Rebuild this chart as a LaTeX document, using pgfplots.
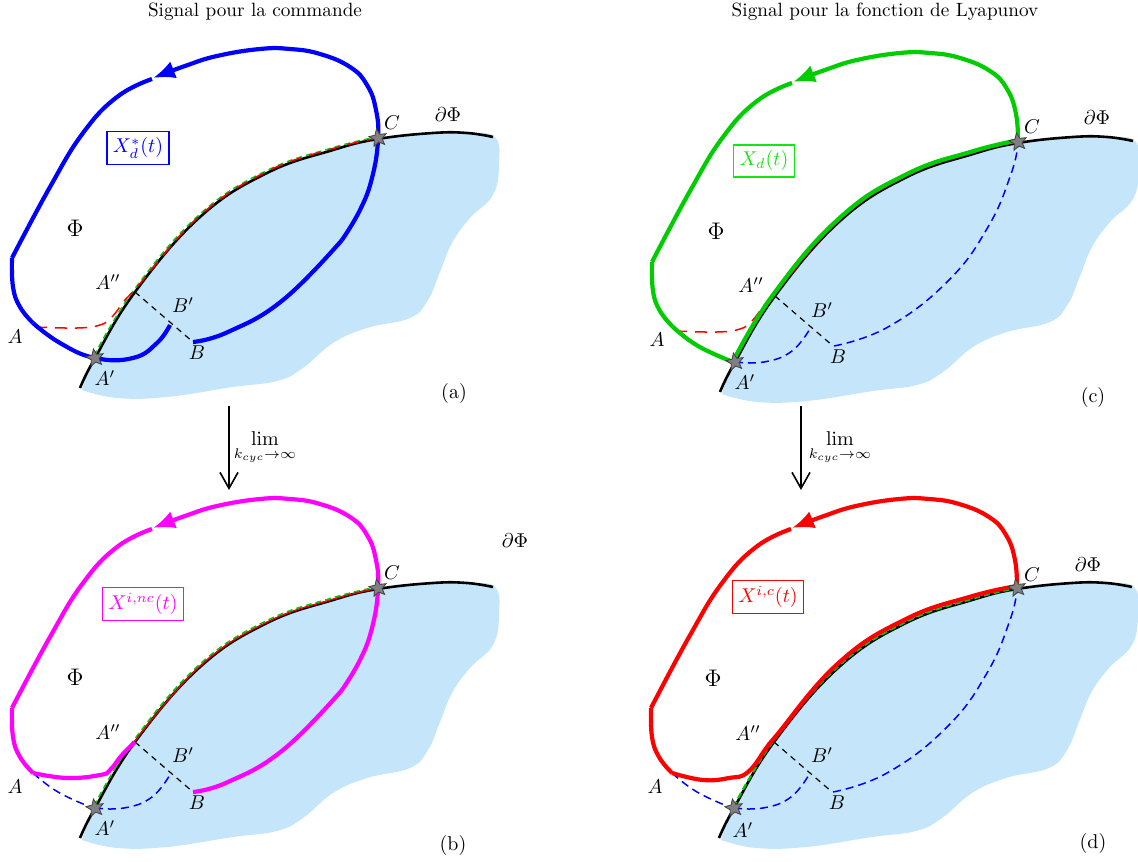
\documentclass[border=0pt]{standalone}
\usepackage{pgfplots}
\pgfplotsset{compat=1.18}
\usepackage{pgfplotstable}
\usetikzlibrary{arrows.meta}

\definecolor{regblue}{RGB}{197,230,250}
\definecolor{mygreen}{RGB}{0,205,0}
\definecolor{boxgreen}{RGB}{20,230,20}
\definecolor{mymag}{RGB}{255,0,255}
\definecolor{myblue}{RGB}{0,0,255}
\definecolor{myred}{RGB}{255,0,0}

\pgfdeclareplotmark{fstar}{%
  \pgfpathmoveto{\pgfpointpolar{100}{\pgfplotmarksize}}%
  \pgfpathlineto{\pgfpointpolar{136}{0.45\pgfplotmarksize}}%
  \pgfpathlineto{\pgfpointpolar{172}{\pgfplotmarksize}}%
  \pgfpathlineto{\pgfpointpolar{208}{0.45\pgfplotmarksize}}%
  \pgfpathlineto{\pgfpointpolar{244}{\pgfplotmarksize}}%
  \pgfpathlineto{\pgfpointpolar{280}{0.45\pgfplotmarksize}}%
  \pgfpathlineto{\pgfpointpolar{316}{\pgfplotmarksize}}%
  \pgfpathlineto{\pgfpointpolar{352}{0.45\pgfplotmarksize}}%
  \pgfpathlineto{\pgfpointpolar{28}{\pgfplotmarksize}}%
  \pgfpathlineto{\pgfpointpolar{64}{0.45\pgfplotmarksize}}%
  \pgfpathclose
  \pgfusepathqfillstroke
}

\pgfplotsset{
  panel/.style={scale only axis, width=569pt, height=430.5pt,
    xmin=0, xmax=1138, ymin=0, ymax=861, y dir=reverse,
    axis lines=none, ticks=none, clip=false, anchor=south west},
  reg/.style={fill=regblue, draw=none, smooth, tension=0.7},
  bnd/.style={black, line width=1.3pt, smooth, tension=0.7},
  thk/.style={line width=2.1pt, smooth, tension=0.75},
  dsh/.style={line width=0.75pt, dash pattern=on 4pt off 2.5pt, smooth, tension=0.75},
  gdsh/.style={mygreen, line width=0.75pt, dash pattern=on 3pt off 2pt, smooth, tension=0.7},
  bdsh/.style={black, line width=0.6pt, dash pattern=on 3pt off 2.5pt},
  rdsh/.style={myred, line width=0.75pt, dash pattern=on 6pt off 4pt, smooth, tension=0.7},
  arr/.style={-{Latex[length=11pt,width=9pt]}},
  star/.style={only marks, mark=fstar, mark size=4.6pt,
    mark options={fill=gray, draw=black!75, line width=0.4pt, solid}},
}

\pgfplotstableread{
x y
82 390
95 358
135 292
200 217
267 173
333 150
378 139
433 133
467 133
495 137
499 165
493 195
470 218
452 243
440 272
428 300
410 318
367 328
333 343
303 368
277 381
233 387
167 397
117 398
82 390
}\reg

\pgfplotstableread{
x y
80 388
95 358
135 292
200 217
267 173
333 150
378 139
433 133
467 133
493 137
}\bnd

\pgfplotstableread{
x y
95 358
135 292
200 217
267 173
333 150
378 139
}\bac

\pgfplotstableread{
x y
135 292
200 217
267 173
333 150
378 139
}\bacu

\pgfplotstableread{
x y
35 327
77 328
100 325
112 317
125 300
137 287
200 215.5
267 171.5
333 148.5
378 138
}\redA

\pgfplotstableread{
x y
33 323
60 343
95 358
133 358
157 343
170 325
}\abot

\pgfplotstableread{
x y
193 342
228 332
283 300
342 240
}\bcone

\pgfplotstableread{
x y
342 240
360 210
372 178
378 140
376 110
367 85
350 67
320 54
290 49
260 49
217 56
185 66
153 78
}\bctwo

\pgfplotstableread{
x y
378 138
376 110
367 85
350 67
320 54
290 49
260 49
217 56
185 66
153 78
}\ltop

\pgfplotstableread{
x y
152 79
117 97
83 133
50 187
12 258
}\lleft

\pgfplotstableread{
x y
12 258
13 287
20 307
33 323
}\lleftlow

\pgfplotstableread{
x y
33 323
67 328
100 325
110 320
122 305
135 292
}\magbot

\pgfplotstableread{
x y
33 323
58 342
93 358
}\dAA

\pgfplotstableread{
x y
95 358
124 358
152 347
171 323
}\dAB

\pgfplotstableread{
x y
194 342
248 323
308 277
348 223
371 170
378 140
}\bcS

\pgfplotstableread{
x y
33 323
64 330
90 328
109 322
128 297
137 286
199 213.5
266 169.5
332 146.5
378 136
}\redD

\begin{document}
\begin{tikzpicture}
% ---------------- panel (a)
\begin{axis}[panel, at={(0pt,0pt)}]
\addplot[reg] table {\reg};
\addplot[bdsh] coordinates {(135,292) (193,342)};
\addplot[bnd] table {\bnd};
\addplot[gdsh] table[x expr=\thisrow{x}-1, y expr=\thisrow{y}-2] {\bac};
\addplot[rdsh] table {\redA};
\addplot[thk, myblue] table {\abot};
\addplot[thk, myblue] table {\bcone};
\addplot[thk, myblue, arr] table {\bctwo};
\addplot[thk, myblue] table {\lleft};
\addplot[thk, myblue] table {\lleftlow};
\addplot[star] coordinates {(95,358) (378,138)};
\node at (axis cs:15,337) {$A$};
\node at (axis cs:105,378) {$A'$};
\node at (axis cs:108,282) {$A''$};
\node at (axis cs:183,305) {$B'$};
\node at (axis cs:197,353) {$B$};
\node at (axis cs:392,123) {$C$};
\node at (axis cs:448,115) {$\partial\Phi$};
\node at (axis cs:75,228) {\large$\Phi$};
\node[draw=myblue, text=myblue, line width=0.6pt, inner sep=3pt] at (axis cs:138,148) {$X_d^*(t)$};
\node at (axis cs:454,394) {(a)};
% titles and arrows
\node at (axis cs:255,12) {\fontsize{9.6pt}{11pt}\selectfont Signal pour la commande};
\node at (axis cs:885,12) {\fontsize{9.6pt}{11pt}\selectfont Signal pour la fonction de Lyapunov};
\draw[-{Straight Barb[length=8pt,width=9pt]}, line width=0.8pt] (axis cs:229,406) -- (axis cs:229,490);
\draw[-{Straight Barb[length=8pt,width=9pt]}, line width=0.8pt] (axis cs:801,406) -- (axis cs:801,490);
\node at (axis cs:265,448) {$\displaystyle\lim_{k_{cyc}\to\infty}$};
\node at (axis cs:840,448) {$\displaystyle\lim_{k_{cyc}\to\infty}$};
\end{axis}
% ---------------- panel (b)
\begin{axis}[panel, at={(0pt,-225pt)}]
\addplot[reg] table {\reg};
\addplot[bdsh] coordinates {(135,292) (193,342)};
\addplot[bnd] table {\bnd};
\addplot[gdsh] table[x expr=\thisrow{x}-1, y expr=\thisrow{y}-2] {\bac};
\addplot[myred, line width=0.6pt, smooth, tension=0.7] table[x expr=\thisrow{x}-0.3, y expr=\thisrow{y}-0.7] {\bacu};
\addplot[dsh, myblue] table {\dAA};
\addplot[dsh, myblue] table {\dAB};
\addplot[thk, mymag] table {\magbot};
\addplot[thk, mymag] table {\bcone};
\addplot[thk, mymag, arr] table {\bctwo};
\addplot[thk, mymag] table {\lleft};
\addplot[thk, mymag] table {\lleftlow};
\addplot[star] coordinates {(95,358) (378,138)};
\node at (axis cs:15,337) {$A$};
\node at (axis cs:105,378) {$A'$};
\node at (axis cs:108,282) {$A''$};
\node at (axis cs:183,305) {$B'$};
\node at (axis cs:197,353) {$B$};
\node at (axis cs:392,123) {$C$};
\node at (axis cs:515,91) {$\partial\Phi$};
\node at (axis cs:75,227) {\large$\Phi$};
\node[draw=mymag, text=mymag, line width=0.6pt, inner sep=3pt] at (axis cs:143,154) {$X^{i,nc}(t)$};
\node at (axis cs:453,395) {(b)};
\end{axis}
% ---------------- panel (c)
\begin{axis}[panel, at={(320pt,-2pt)}]
\addplot[reg] table {\reg};
\addplot[bdsh] coordinates {(135,292) (193,342)};
\addplot[bnd] table {\bnd};
\addplot[rdsh] table {\redA};
\addplot[dsh, myblue] table {\dAB};
\addplot[dsh, myblue] table {\bcS};
\addplot[thk, mygreen] table {\dAA};
\addplot[thk, mygreen] table[x expr=\thisrow{x}-1, y expr=\thisrow{y}-2.5] {\bac};
\addplot[thk, mygreen, arr] table {\ltop};
\addplot[thk, mygreen] table {\lleft};
\addplot[thk, mygreen] table {\lleftlow};
\addplot[star] coordinates {(95,358) (378,138)};
\node at (axis cs:17,336) {$A$};
\node at (axis cs:105,378) {$A'$};
\node at (axis cs:111,281) {$A''$};
\node at (axis cs:182,306) {$B'$};
\node at (axis cs:198,353) {$B$};
\node at (axis cs:392,123) {$C$};
\node at (axis cs:457,114) {$\partial\Phi$};
\node at (axis cs:76,227) {\large$\Phi$};
\node[draw=boxgreen, text=boxgreen, line width=0.6pt, inner sep=3pt] at (axis cs:124,157) {$X_d(t)$};
\node at (axis cs:453,394) {(c)};
\end{axis}
% ---------------- panel (d)
\begin{axis}[panel, at={(319.5pt,-225pt)}]
\addplot[reg] table {\reg};
\addplot[bdsh] coordinates {(135,292) (193,342)};
\addplot[bnd] table {\bnd};
\addplot[dsh, myblue] table {\dAA};
\addplot[dsh, myblue] table {\dAB};
\addplot[dsh, myblue] table {\bcS};
\addplot[gdsh, line width=1.1pt] table[x expr=\thisrow{x}-0.5, y expr=\thisrow{y}-1] {\bac};
\addplot[thk, myred] table {\redD};
\addplot[thk, myred, arr] table {\ltop};
\addplot[thk, myred] table {\lleft};
\addplot[thk, myred] table {\lleftlow};
\addplot[star] coordinates {(95,358) (378,138)};
\node at (axis cs:16,337) {$A$};
\node at (axis cs:104,380) {$A'$};
\node at (axis cs:109,283) {$A''$};
\node at (axis cs:183,305) {$B'$};
\node at (axis cs:198,353) {$B$};
\node at (axis cs:393,125) {$C$};
\node at (axis cs:449,115) {$\partial\Phi$};
\node at (axis cs:74,228) {\large$\Phi$};
\node[draw=myred, text=myred, line width=0.6pt, inner sep=3pt] at (axis cs:129,147) {$X^{i,c}(t)$};
\node at (axis cs:454,393) {(d)};
\end{axis}
\pgfresetboundingbox
\useasboundingbox (0pt,0pt) rectangle (569pt,430.5pt);
\end{tikzpicture}
\end{document}
